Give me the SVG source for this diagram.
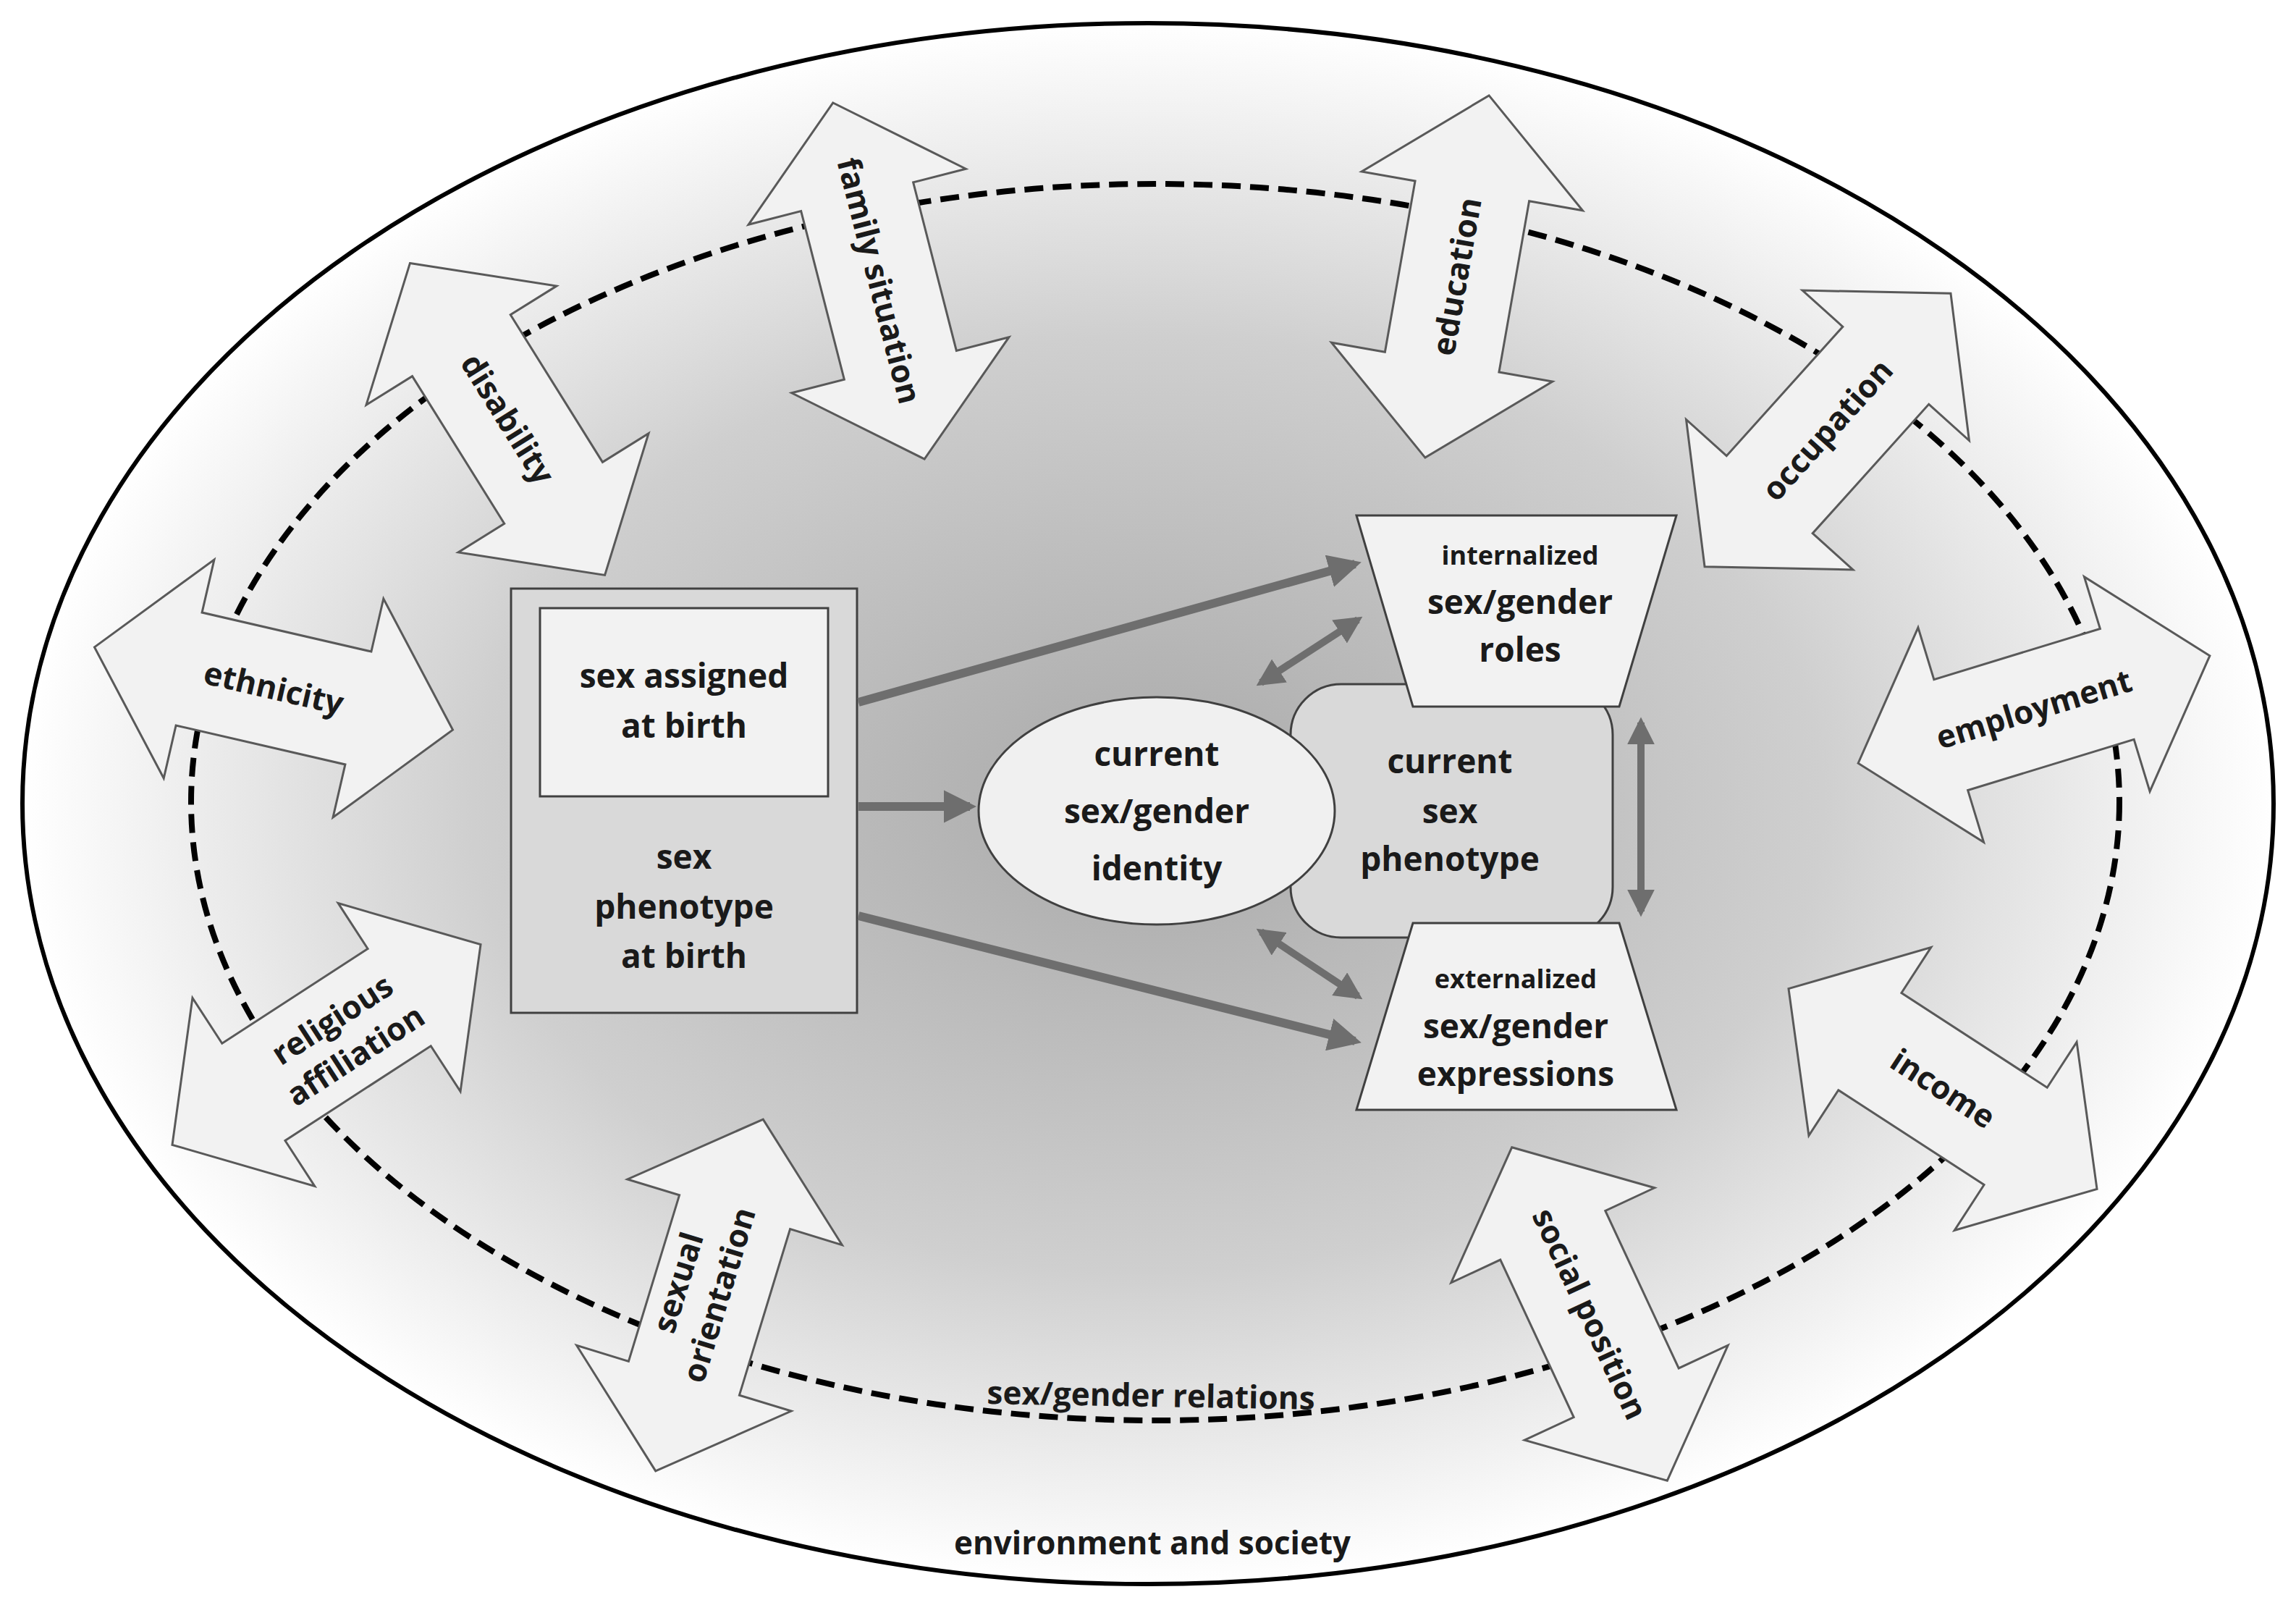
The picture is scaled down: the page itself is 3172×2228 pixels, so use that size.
<svg xmlns="http://www.w3.org/2000/svg" width="3172" height="2228" viewBox="0 0 3172 2228">
<defs>
<radialGradient id="bg" cx="50%" cy="50%" r="50%">
<stop offset="0" stop-color="#a9a9a9"/><stop offset="0.6" stop-color="#cfcfcf"/><stop offset="1" stop-color="#ffffff"/>
</radialGradient>
<path id="dbl" d="M-254,0 L-120,-155 L-120,-80 L120,-80 L120,-155 L254,0 L120,155 L120,80 L-120,80 L-120,155 Z"/>
<marker id="ah" viewBox="0 0 10 10" refX="8" refY="5" markerWidth="3.8" markerHeight="3.8" orient="auto-start-reverse">
<path d="M0,0 L10,5 L0,10 Z" fill="#6e6e6e"/>
</marker>
<style>
.t{font-family:"Open Sans","Liberation Sans",sans-serif;font-weight:700;fill:#1a1a1a;text-anchor:middle}
.lbl{font-size:44px}
.c{font-size:46px}
.s{font-size:36px}
.ba{fill:#f2f2f2;stroke:#595959;stroke-width:3}
.g{stroke:#6e6e6e;stroke-width:12;fill:none;marker-end:url(#ah)}
.gg{stroke:#6e6e6e;stroke-width:10;fill:none;marker-end:url(#ah);marker-start:url(#ah)}
</style>
</defs>
<g id="environment">
<ellipse cx="1586" cy="1110" rx="1555" ry="1078" fill="url(#bg)" stroke="#000" stroke-width="6"/>
<text class="t lbl" x="1592" y="2147">environment and society</text>
</g>
<g id="relations">
<ellipse cx="1596" cy="1108" rx="1332" ry="854" fill="none" stroke="#000" stroke-width="8" stroke-dasharray="26 13"/>
<text class="t lbl" x="1590" y="1943" transform="rotate(1 1590 1930)">sex/gender relations</text>
</g>
<g id="family"><use href="#dbl" class="ba" transform="translate(1214,388) rotate(75.6)"/><text class="t lbl" transform="translate(1214,388) rotate(75.6)" y="15">family situation</text></g>
<g id="education"><use href="#dbl" class="ba" transform="translate(2013,382) rotate(-80)"/><text class="t lbl" transform="translate(2013,382) rotate(-80)" y="15">education</text></g>
<g id="disability"><use href="#dbl" class="ba" transform="translate(701,579) rotate(58)"/><text class="t lbl" transform="translate(701,579) rotate(58)" y="15">disability</text></g>
<g id="occupation"><use href="#dbl" class="ba" transform="translate(2525,594) rotate(-48)"/><text class="t lbl" transform="translate(2525,594) rotate(-48)" y="15">occupation</text></g>
<g id="ethnicity"><use href="#dbl" class="ba" transform="translate(378,951) rotate(13)"/><text class="t lbl" transform="translate(378,951) rotate(13)" y="15">ethnicity</text></g>
<g id="employment"><use href="#dbl" class="ba" transform="translate(2810,980) rotate(-17)"/><text class="t lbl" transform="translate(2810,980) rotate(-17)" y="15">employment</text></g>
<g id="religious"><use href="#dbl" class="ba" transform="translate(451,1443) rotate(-33)"/><text class="t lbl" transform="translate(475,1433) rotate(-33)"><tspan x="0" y="-14">religious</tspan><tspan x="0" y="45">affiliation</tspan></text></g>
<g id="income"><use href="#dbl" class="ba" transform="translate(2684,1504) rotate(33)"/><text class="t lbl" transform="translate(2684,1504) rotate(33)" y="15">income</text></g>
<g id="sexual"><use href="#dbl" class="ba" transform="translate(980,1789) rotate(-73)"/><text class="t lbl" transform="translate(965,1780) rotate(-73)"><tspan x="0" y="-14">sexual</tspan><tspan x="0" y="45">orientation</tspan></text></g>
<g id="social"><use href="#dbl" class="ba" transform="translate(2196,1815) rotate(65)"/><text class="t lbl" transform="translate(2196,1815) rotate(65)" y="15">social position</text></g>
<g id="birth">
<rect x="706" y="813" width="478" height="586" fill="#d9d9d9" stroke="#404040" stroke-width="3"/>
<rect x="746" y="840" width="398" height="260" fill="#f2f2f2" stroke="#404040" stroke-width="3"/>
<text class="t c" x="945"><tspan x="945" y="950">sex assigned</tspan><tspan x="945" y="1019">at birth</tspan></text>
<text class="t c" x="945"><tspan x="945" y="1200">sex</tspan><tspan x="945" y="1269">phenotype</tspan><tspan x="945" y="1337">at birth</tspan></text>
</g>
<g id="phenotype">
<rect x="1783" y="945" width="445" height="350" rx="70" fill="#d9d9d9" stroke="#404040" stroke-width="3"/>
<text class="t c"><tspan x="2003" y="1068">current</tspan><tspan x="2003" y="1137">sex</tspan><tspan x="2003" y="1203">phenotype</tspan></text>
</g>
<g id="identity">
<ellipse cx="1598" cy="1120" rx="246" ry="157" fill="#f0f0f0" stroke="#404040" stroke-width="3"/>
<text class="t c"><tspan x="1598" y="1058">current</tspan><tspan x="1598" y="1137">sex/gender</tspan><tspan x="1598" y="1216">identity</tspan></text>
</g>
<g id="roles">
<polygon points="1874,712 2316,712 2237,976 1952,976" fill="#f2f2f2" stroke="#404040" stroke-width="3"/>
<text class="t"><tspan class="s" x="2100" y="780">internalized</tspan><tspan class="c" x="2100" y="848">sex/gender</tspan><tspan class="c" x="2100" y="914">roles</tspan></text>
</g>
<g id="expressions">
<polygon points="1952,1275 2237,1275 2316,1533 1874,1533" fill="#f2f2f2" stroke="#404040" stroke-width="3"/>
<text class="t"><tspan class="s" x="2094" y="1365">externalized</tspan><tspan class="c" x="2094" y="1434">sex/gender</tspan><tspan class="c" x="2094" y="1500">expressions</tspan></text>
</g>
<g id="connectors">
<line class="g" x1="1186" y1="970" x2="1872" y2="779"/>
<line class="g" x1="1186" y1="1114" x2="1340" y2="1114"/>
<line class="g" x1="1186" y1="1265" x2="1872" y2="1438"/>
<line class="gg" x1="1742" y1="943" x2="1876" y2="856"/>
<line class="gg" x1="1742" y1="1287" x2="1876" y2="1376"/>
<line class="gg" x1="2267" y1="998" x2="2267" y2="1259"/>
</g>
</svg>
